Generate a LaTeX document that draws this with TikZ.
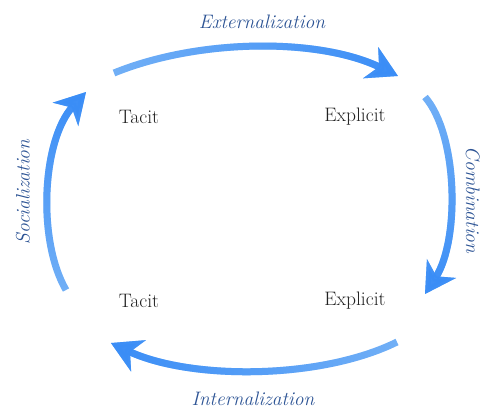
\documentclass[tikz,border=0pt]{standalone}
\usetikzlibrary{arrows.meta,fadings}

\definecolor{headblue}{HTML}{3A8DF7}
\definecolor{tailblue}{HTML}{72B0F6}
\definecolor{labelblue}{HTML}{2C5394}
\definecolor{termgray}{HTML}{222222}

\tikzfading[name=tohead, left color=transparent!100, right color=transparent!0]

\tikzset{
  term/.style={text=termgray, font=\fontsize{19.5}{22}\selectfont},
  mode/.style={text=labelblue, font=\fontsize{19.5}{22}\selectfont\itshape},
  cycle/.style={line width=7pt, -{Stealth[length=30pt, width=34pt, inset=9pt]}},
}

\begin{document}
\begin{tikzpicture}[x=1pt, y=-1pt]
\useasboundingbox (0,0) rectangle (483,408);
% the four terms
\node[term] (tl) at (139,117) {Tacit};
\node[term] (tr) at (355,117) {Explicit};
\node[term] (bl) at (139,301) {Tacit};
\node[term] (br) at (355,301) {Explicit};
% arrow ends
\coordinate (ext-s) at (114,73);
\coordinate (ext-e) at (398,76);
\coordinate (com-s) at (425,97);
\coordinate (com-e) at (425,294);
\coordinate (int-s) at (397,342);
\coordinate (int-e) at (111,343);
\coordinate (soc-s) at (66,290);
\coordinate (soc-e) at (86,92);
% externalization
\draw[cycle, tailblue] (ext-s) .. controls (200,38) and (320,38) .. (ext-e);
\draw[cycle, headblue, path fading=tohead, fit fading=true]
  (ext-s) .. controls (200,38) and (320,38) .. (ext-e);
% combination
\draw[cycle, tailblue] (com-s) .. controls (458,135) and (460,240) .. (com-e);
\draw[cycle, headblue, path fading=tohead, fit fading=true, fading angle=-90]
  (com-s) .. controls (458,135) and (460,240) .. (com-e);
% internalization
\draw[cycle, tailblue] (int-s) .. controls (320,380) and (190,380) .. (int-e);
\draw[cycle, headblue, path fading=tohead, fit fading=true, fading angle=180]
  (int-s) .. controls (320,380) and (190,380) .. (int-e);
% socialization
\draw[cycle, tailblue] (soc-s) .. controls (37,240) and (42,140) .. (soc-e);
\draw[cycle, headblue, path fading=tohead, fit fading=true, fading angle=90]
  (soc-s) .. controls (37,240) and (42,140) .. (soc-e);
% mode labels
\node[mode] (ext) at (262,22) {Externalization};
\node[mode, rotate=-90, anchor=base] (com) at (466,200) {Combination};
\node[mode] (int) at (253,399) {Internalization};
\node[mode, rotate=90] (soc) at (23,192) {Socialization};
\end{tikzpicture}
\end{document}
